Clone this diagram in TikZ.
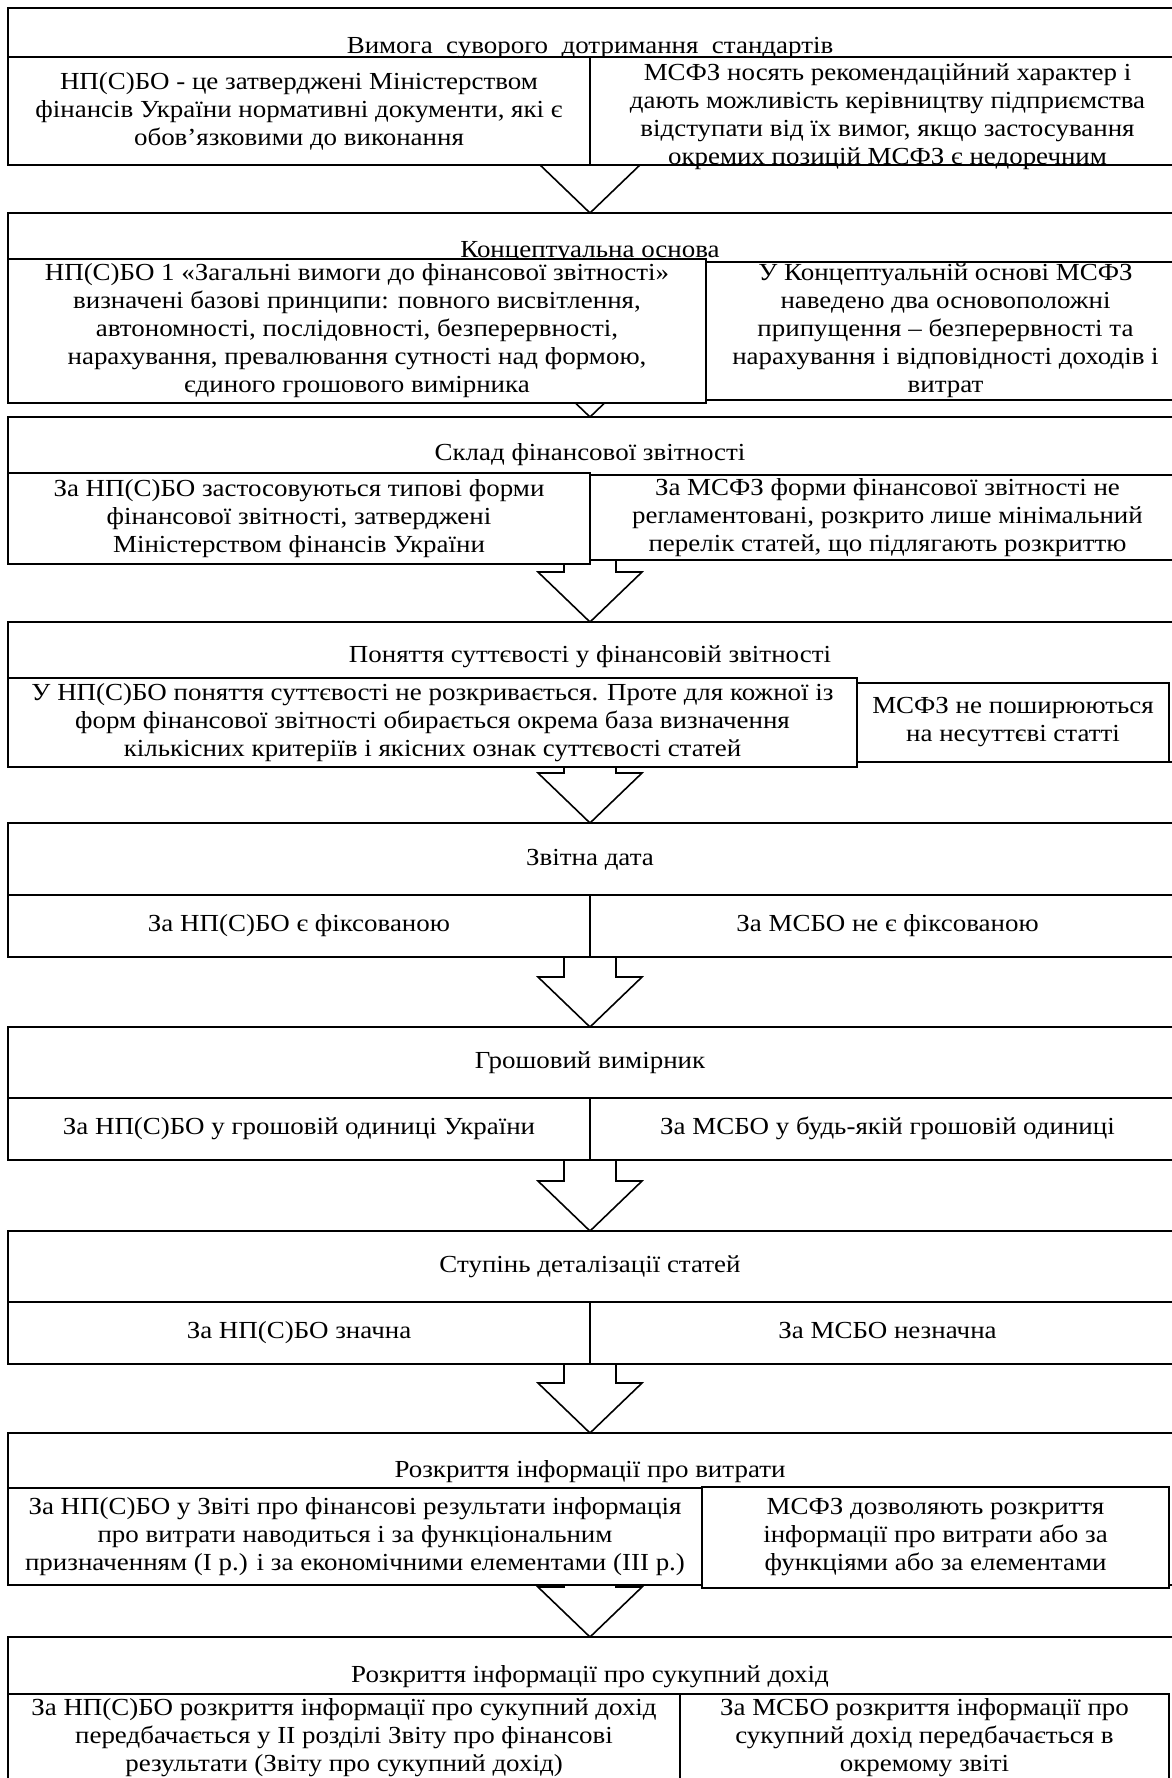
\documentclass[tikz,border=0pt]{standalone}
\usepackage{fontspec}
\setmainfont{Liberation Serif}[FakeStretch=1.1]
\usepackage{tikz}
\usetikzlibrary{calc,backgrounds,positioning}
\tikzset{secbox/.style={draw,line width=2.6pt,fill=white,minimum width=1177,anchor=north west,inner sep=0pt,outer sep=0pt},
  cell/.style={draw,line width=2.1pt,fill=white,anchor=north west,align=center,inner sep=0pt,outer sep=0pt},
  onecell/.style={cell,text height=17,text depth=6},
  head/.style={inner sep=0pt,align=center},
  blockline/.style={line width=1.6pt,line join=miter}}
\newcommand{\blockarrow}[2]{\coordinate (ba) at (#1.south -| mid); \coordinate (bb) at (#2.north -| mid);
  \draw[blockline] ($(ba)+(-26,0)$)--($(bb)+(-26,-50)$)--($(bb)+(-52,-50)$)--(bb)
    --($(bb)+(52,-50)$)--($(bb)+(26,-50)$)--($(ba)+(26,0)$);}
\begin{document}
\begin{tikzpicture}[x=1pt,y=-1pt,font=\fontsize{24.5}{28}\selectfont]
\useasboundingbox (0,0) rectangle (1171,1778);
\coordinate (mid) at (590,0);
% Вимога суворого дотримання стандартів
\node[secbox,minimum height=157] (s1) at (8,8) {};
\node[head] (h1) at (590,48) {Вимога\ \ суворого\ \ дотримання\ \ стандартів};
\node[cell,minimum width=582,minimum height=108] (l1) at (8,57) {НП(С)БО - це затверджені Міністерством\\фінансів України нормативні документи, які є\\обов’язковими до виконання};
\node[cell,minimum width=595,minimum height=108] (r1) at (590,57) {};
\node[head] (r1t) at ([yshift=-6]r1.center) {МСФЗ носять рекомендаційний характер і\\дають можливість керівництву підприємства\\відступати від їх вимог, якщо застосування\\окремих позицій МСФЗ є недоречним};
% Концептуальна основа
\node[secbox,minimum height=186] (s2) at (8,213) {};
\node[head] (h2) at (590,252) {Концептуальна основа};
\node[cell,minimum width=698,minimum height=144] (l2) at (8,259) {НП(С)БО 1 «Загальні вимоги до фінансової звітності»\\визначені базові принципи: повного висвітлення,\\автономності, послідовності, безперервності,\\нарахування, превалювання сутності над формою,\\єдиного грошового вимірника};
\node[cell,minimum width=479,minimum height=138] (r2) at (706,262) {У Концептуальній основі МСФЗ\\наведено два основоположні\\припущення – безперервності та\\нарахування і відповідності доходів і\\витрат};
% Склад фінансової звітності
\node[secbox,minimum height=143] (s3) at (8,417) {};
\node[head] (h3) at (590,455) {Склад фінансової звітності};
\node[cell,minimum width=582,minimum height=91] (l3) at (8,473) {За НП(С)БО застосовуються типові форми\\фінансової звітності, затверджені\\Міністерством фінансів України};
\node[cell,minimum width=595,minimum height=85] (r3) at (590,475) {За МСФЗ форми фінансової звітності не\\регламентовані, розкрито лише мінімальний\\перелік статей, що підлягають розкриттю};
% Поняття суттєвості
\node[secbox,minimum height=140] (s4) at (8,622) {};
\node[head] (h4) at (590,657) {Поняття суттєвості у фінансовій звітності};
\node[cell,minimum width=849,minimum height=89] (l4) at (8,678) {У НП(С)БО поняття суттєвості не розкривається. Проте для кожної із\\форм фінансової звітності обирається окрема база визначення\\кількісних критеріїв і якісних ознак суттєвості статей};
\node[cell,minimum width=312,minimum height=79] (r4) at (857,683) {МСФЗ не поширюються\\на несуттєві статті};
% Звітна дата
\node[secbox,minimum height=134] (s5) at (8,823) {};
\node[head] (h5) at (590,860) {Звітна дата};
\node[onecell,minimum width=582,minimum height=62] (l5) at (8,895) {За НП(С)БО є фіксованою};
\node[onecell,minimum width=595,minimum height=62] (r5) at (590,895) {За МСБО не є фіксованою};
% Грошовий вимірник
\node[secbox,minimum height=133] (s6) at (8,1027) {};
\node[head] (h6) at (590,1063) {Грошовий вимірник};
\node[onecell,minimum width=582,minimum height=62] (l6) at (8,1098) {За НП(С)БО у грошовій одиниці України};
\node[onecell,minimum width=595,minimum height=62] (r6) at (590,1098) {За МСБО у будь-якій грошовій одиниці};
% Ступінь деталізації
\node[secbox,minimum height=133] (s7) at (8,1231) {};
\node[head] (h7) at (590,1267) {Ступінь деталізації статей};
\node[onecell,minimum width=582,minimum height=62] (l7) at (8,1302) {За НП(С)БО значна};
\node[onecell,minimum width=595,minimum height=62] (r7) at (590,1302) {За МСБО незначна};
% Розкриття інформації про витрати
\node[secbox,minimum height=152] (s8) at (8,1433) {};
\node[head] (h8) at (590,1472) {Розкриття інформації про витрати};
\node[cell,minimum width=694,minimum height=97] (l8) at (8,1488) {За НП(С)БО у Звіті про фінансові результати інформація\\про витрати наводиться і за функціональним\\призначенням (I р.) і за економічними елементами (III р.)};
\node[cell,minimum width=467,minimum height=101] (r8) at (702,1487) {МСФЗ дозволяють розкриття\\інформації про витрати або за\\функціями або за елементами};
% Розкриття інформації про сукупний дохід
\node[secbox,minimum height=145] (s9) at (8,1637) {};
\node[head] (h9) at (590,1677) {Розкриття інформації про сукупний дохід};
\node[cell,minimum width=672,minimum height=88] (l9) at (8,1694) {За НП(С)БО розкриття інформації про сукупний дохід\\передбачається у II розділі Звіту про фінансові\\результати (Звіту про сукупний дохід)};
\node[cell,minimum width=489,minimum height=88] (r9) at (680,1694) {За МСБО розкриття інформації про\\сукупний дохід передбачається в\\окремому звіті};
\begin{scope}[on background layer]
\blockarrow{s1}{s2} \blockarrow{s2}{s3} \blockarrow{s3}{s4} \blockarrow{s4}{s5}
\blockarrow{s5}{s6} \blockarrow{s6}{s7} \blockarrow{s7}{s8} \blockarrow{s8}{s9}
\end{scope}
\end{tikzpicture}
\end{document}
